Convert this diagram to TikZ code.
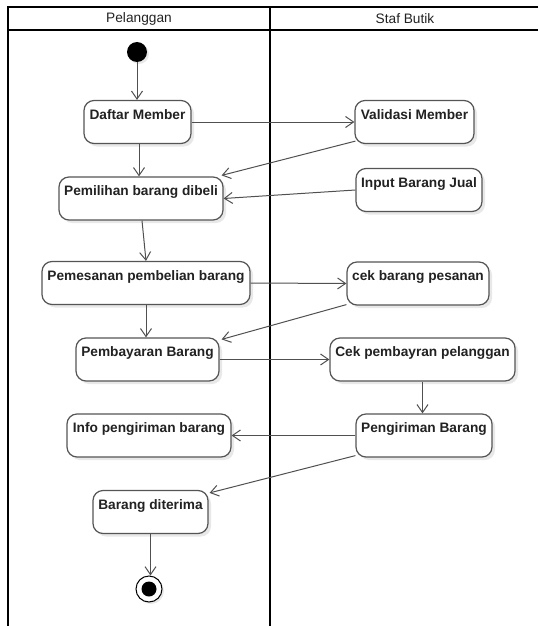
\documentclass[tikz,border=0pt]{standalone}
\usepackage{fontspec}
\setmainfont{Liberation Sans}
\usetikzlibrary{arrows.meta,shadows,calc}
\definecolor{boxline}{HTML}{555555}
\definecolor{conn}{HTML}{505050}
\definecolor{txt}{HTML}{222222}
\tikzset{
  act/.style={draw=boxline, line width=1.2pt, rounded corners=10pt, fill=white,
    text=txt, font=\bfseries\fontsize{13.7}{16}\selectfont,
    inner xsep=4pt, inner ysep=5pt, text height=13.8pt, text depth=19.2pt,
    drop shadow={opacity=0.18, shadow xshift=3pt, shadow yshift=-3pt}},
  flow/.style={draw=conn, line width=1pt, -{Straight Barb[length=8pt,width=11pt,line width=1pt]}},
  lane/.style={draw=black, line width=2.6pt},
  lanetitle/.style={text=txt, font=\fontsize{13.7}{16}\selectfont},
}
\begin{document}
\begin{tikzpicture}[x=1pt,y=-1pt]
\useasboundingbox (0,0) rectangle (538,626);
% swimlanes
\draw[lane] (538,7) -- (8,7) -- (8,626);
\draw[lane] (8,30) -- (538,30);
\draw[lane] (270,7) -- (270,626);
\node[lanetitle] (lp) at (139,18.5) {Pelanggan};
\node[lanetitle] (ls) at (405,18.5) {Staf Butik};
% initial / final
\node[circle, fill=black, minimum size=20pt, inner sep=0pt,
  drop shadow={opacity=0.18, shadow xshift=2pt, shadow yshift=-2pt}] (start) at (137,52) {};
\node[circle, draw=black, line width=1pt, fill=white, minimum size=26pt, inner sep=0pt,
  drop shadow={opacity=0.18, shadow xshift=2pt, shadow yshift=-2pt}] (end) at (149,589) {};
\node[circle, fill=black, minimum size=15pt, inner sep=0pt] (endin) at (end.center) {};
% activities
\node[act, minimum width=107pt] (dm) at (137.5,122) {Daftar Member};
\node[act, minimum width=119pt] (vm) at (414.5,122) {Validasi Member};
\node[act, minimum width=164pt] (pb) at (141,198.5) {Pemilihan barang dibeli};
\node[act, minimum width=126pt] (ib) at (419,190) {Input Barang Jual};
\node[act, minimum width=208pt] (pp) at (146,283) {Pemesanan pembelian barang};
\node[act, minimum width=142pt] (cb) at (418,283.5) {cek barang pesanan};
\node[act, minimum width=143pt] (py) at (147.5,359.5) {Pembayaran Barang};
\node[act, minimum width=185pt] (cp) at (422.5,359.5) {Cek pembayran pelanggan};
\node[act, minimum width=164pt] (ip) at (149,435.5) {Info pengiriman barang};
\node[act, minimum width=136pt] (pg) at (424,435.5) {Pengiriman Barang};
\node[act, minimum width=115pt] (bd) at (150.5,512) {Barang diterima};
% helper points
\coordinate (dmb) at ($(dm.south)+(1.5,0)$);
\coordinate (vmo) at ($(vm.south west)+(1,-3)$);
\coordinate (pbi) at ($(pb.north east)+(-2,-1)$);
\coordinate (pbo) at ($(pb.south)+(1,0)$);
\coordinate (cbo) at ($(cb.south west)+(0,-1)$);
\coordinate (pyi) at ($(py.north east)+(2,2)$);
\coordinate (pgo) at ($(pg.south west)+(0,-2)$);
\coordinate (bdi) at ($(bd.north east)+(1,3)$);
% flows
\draw[flow] (start) -- (start |- dm.north);
\draw[flow] (dm.east) -- (vm.west);
\draw[flow] (dmb) -- (dmb |- pb.north);
\draw[flow] (vmo) -- (pbi);
\draw[flow] (ib.west) -- (pb.east);
\draw[flow] (pbo) -- (pp.north);
\draw[flow] (pp.east) -- (cb.west);
\draw[flow] (pp.south) -- (pp.south |- py.north);
\draw[flow] (cbo) -- (pyi);
\draw[flow] (py.east) -- (cp.west);
\draw[flow] (cp.south) -- (cp.south |- pg.north);
\draw[flow] (pg.west) -- (ip.east);
\draw[flow] (pgo) -- (bdi);
\draw[flow] (bd.south) -- (bd.south |- end.north);
\end{tikzpicture}
\end{document}
